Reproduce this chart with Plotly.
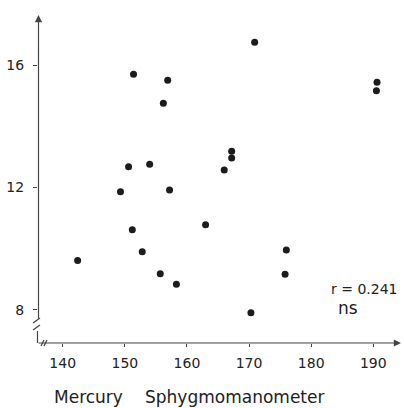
import plotly.graph_objects as go

# Data (Mercury sphygmomanometer vs. other measure)
mercury = [142.4, 149.3, 150.6, 151.2, 151.4, 152.8, 154.0, 155.7, 156.2, 156.9,
           157.2, 158.3, 163.0, 166.0, 167.2, 167.2, 170.3, 170.9, 175.8, 176.0,
           190.6, 190.5]
other = [9.62, 11.86, 12.68, 10.62, 15.70, 9.90, 12.76, 9.18, 14.75, 15.50,
         11.92, 8.84, 10.78, 12.57, 13.18, 12.96, 7.91, 16.74, 9.17, 9.96,
         15.44, 15.16]
x_ticks = [140, 150, 160, 170, 180, 190]
y_ticks = [8, 12, 16]
x_title_words = ["Mercury", "Sphygmomanometer"]
stat_lines = ["r = 0.241", "ns"]

W, H = 404, 408
ML, MR, MT, MB = 38, 4, 15, 65
PW, PH = W - ML - MR, H - MT - MB
FONT = "DejaVu Sans"
INK = "#222222"
AX = "#444444"


def px(xp):
    return (xp - ML) / PW


def py(yp):
    return (H - MB - yp) / PH


fig = go.Figure()
fig.add_trace(go.Scatter(
    x=mercury, y=other, mode="markers",
    marker=dict(size=7, color="#1c1c1c"),
    hoverinfo="x+y", showlegend=False,
))

line_style = dict(color=AX, width=1.2)
segments = [
    (33, 323, 40, 318),   # y break mark 1
    (33, 330, 40, 325),   # y break mark 2
    (37.5, 331, 37.5, 343),  # lower y segment
    (41, 346, 44, 340),   # x break mark 1
    (44, 346, 47, 340),   # x break mark 2
]
for x0, y0, x1, y1 in segments:
    fig.add_shape(type="line", xref="paper", yref="paper",
                  x0=px(x0), y0=py(y0), x1=px(x1), y1=py(y1), line=line_style)

# Axis lines with arrow heads
fig.add_annotation(xref="paper", yref="paper", x=px(38.5), y=py(15),
                   ax=0, ay=305, showarrow=True, arrowhead=2, arrowsize=1.2,
                   arrowwidth=1.2, arrowcolor=AX, text="")
fig.add_annotation(xref="paper", yref="paper", x=px(401), y=py(343),
                   ax=-364, ay=0, showarrow=True, arrowhead=2, arrowsize=1.2,
                   arrowwidth=1.2, arrowcolor=AX, text="")

# Axis title as two words
fig.add_annotation(xref="paper", yref="paper", x=px(52), y=py(397),
                   xanchor="left", yanchor="middle", showarrow=False,
                   text=x_title_words[0], font=dict(family=FONT, size=17, color=INK))
fig.add_annotation(xref="paper", yref="paper", x=px(143), y=py(397),
                   xanchor="left", yanchor="middle", showarrow=False,
                   text=x_title_words[1], font=dict(family=FONT, size=17, color=INK))

# Statistics text
fig.add_annotation(xref="paper", yref="paper", x=px(329), y=py(289),
                   xanchor="left", yanchor="middle", showarrow=False,
                   text=stat_lines[0], font=dict(family=FONT, size=14, color=INK))
fig.add_annotation(xref="paper", yref="paper", x=px(336), y=py(308),
                   xanchor="left", yanchor="middle", showarrow=False,
                   text=stat_lines[1], font=dict(family=FONT, size=17, color=INK))

fig.update_xaxes(range=[136.02, 194.30], tickvals=x_ticks,
                 ticktext=[str(v) for v in x_ticks],
                 showline=False, showgrid=False, zeroline=False,
                 ticks="outside", ticklen=3, tickwidth=1.2, tickcolor=AX,
                 ticklabelstandoff=4,
                 tickfont=dict(family=FONT, size=14, color=INK))
fig.update_yaxes(range=[6.922, 17.633], tickvals=y_ticks,
                 ticktext=[str(v) for v in y_ticks],
                 showline=False, showgrid=False, zeroline=False,
                 ticks="outside", ticklen=4, tickwidth=1.2, tickcolor=AX,
                 ticklabelstandoff=6,
                 tickfont=dict(family=FONT, size=14, color=INK))

fig.update_layout(
    width=W, height=H,
    margin=dict(l=ML, r=MR, t=MT, b=MB, pad=0),
    paper_bgcolor="white", plot_bgcolor="white",
    font=dict(family=FONT, color=INK),
)

fig.write_html("out.html", config={"displayModeBar": False},
               post_script="document.body.style.margin='0';"
                           "document.body.style.overflow='hidden';")
